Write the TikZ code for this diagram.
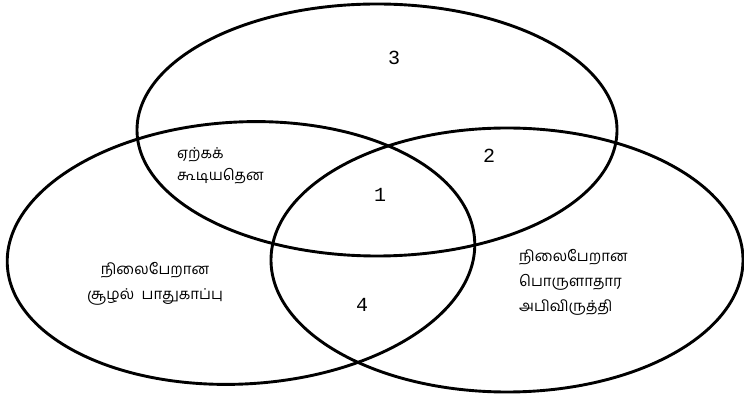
\documentclass[tikz,border=0pt]{standalone}
\usepackage{fontspec}
\newfontfamily\tamilfont[Script=Tamil]{Hind Madurai}
\newfontfamily\numfont{Liberation Mono}
\usepackage{tikz}
\usetikzlibrary{positioning}
\tikzset{
  ring/.style={draw=black,line width=2.9pt},
  tlab/.style={font=\tamilfont\fontsize{15}{25}\selectfont,inner sep=0pt},
  num/.style={font=\numfont\fontsize{20}{20}\selectfont,inner sep=0pt},
}
\begin{document}
\begin{tikzpicture}[x=1pt,y=1pt]
\useasboundingbox (0,0) rectangle (744,396);
% three circles
\draw[ring] (377,266) ellipse [x radius=240,y radius=126];
\draw[ring,rotate around={3:(241,143)}] (241,143) ellipse [x radius=234,y radius=131];
\draw[ring] (507,136) ellipse [x radius=236,y radius=132];
% labels
\node[tlab,anchor=west,align=left] (accept) at (177,230) {ஏற்கக்\\[-3pt]கூடியதென};
\node[tlab,align=center] (env) at (155,112) {நிலைபேறான\\சூழல்~~பாதுகாப்பு};
\node[tlab,anchor=west,align=left] (econ) at (519,114) {நிலைபேறான\\பொருளாதார\\அபிவிருத்தி};
\node[num] (n3) at (394,338) {3};
\node[num] (n2) at (489,240) {2};
\node[num] (n1) at (380,201) {1};
\node[num] (n4) at (362,91) {4};
\end{tikzpicture}
\end{document}
